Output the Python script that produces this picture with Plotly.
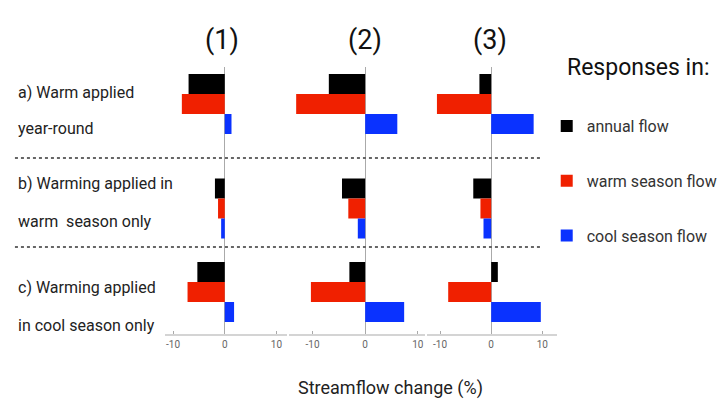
import plotly.graph_objects as go

W, H = 723, 409

columns = ["(1)", "(2)", "(3)"]
scenario_lines = [
    ["a) Warm applied", "year-round"],
    ["b) Warming applied in", "warm  season only"],
    ["c) Warming applied", "in cool season only"],
]
series_names = ["annual flow", "warm season flow", "cool season flow"]
series_colors = ["#000000", "#f02000", "#0a32ff"]

# streamflow change (%), indexed [column][scenario a, b, c]
annual_flow = [[-7.0, -1.9, -5.3], [-6.9, -4.4, -3.0], [-2.3, -3.5, 1.3]]
warm_season_flow = [[-8.3, -1.3, -7.2], [-13.1, -3.2, -10.3], [-10.6, -2.1, -8.4]]
cool_season_flow = [[1.3, -0.7, 1.8], [6.1, -1.4, 7.4], [8.3, -1.5, 9.7]]
series_values = [annual_flow, warm_season_flow, cool_season_flow]

tick_vals = [-10, 0, 10]
tick_text = ["-10", "0", "10"]
x_title = "Streamflow change (%)"
legend_title = "Responses in:"

# ---- layout constants (pixels) ----
FONT = "Roboto, Liberation Sans, sans-serif"
col_px = [(166, 288), (290, 427), (429, 559)]
col_ranges = [(-11.5, 12.0), (-14.5, 11.4), (-12.5, 12.8)]
plot_top, plot_bot = 67, 334
row_base = [0.85, 6.08, 10.25]
header_x = [223, 367, 492]
label_y = [[92, 128], [183, 222], [287, 325]]
sep_y = [158, 247]


def px(x):
    return x / W


def py(y):
    return 1 - y / H


fig = go.Figure()
for c in range(len(columns)):
    xa = "x" if c == 0 else f"x{c + 1}"
    for s, name in enumerate(series_names):
        vals = series_values[s][c]
        fig.add_trace(go.Bar(
            x=vals,
            y=[row_base[r] + s for r in range(len(vals))],
            orientation="h",
            width=1.0,
            marker=dict(color=series_colors[s], line=dict(width=0)),
            name=name,
            legendgroup=name,
            showlegend=(c == 0),
            xaxis=xa,
            yaxis="y",
        ))

layout = dict(
    width=W, height=H,
    margin=dict(l=0, r=0, t=0, b=0),
    paper_bgcolor="white", plot_bgcolor="white",
    barmode="overlay",
    font=dict(family=FONT, color="#222"),
    yaxis=dict(domain=[py(plot_bot), py(plot_top)], range=[13.35, 0],
               showgrid=False, zeroline=False, showticklabels=False,
               showline=False, ticks="", anchor="x", fixedrange=True),
    legend=dict(x=px(549), y=py(109), xanchor="left", yanchor="top",
                font=dict(size=16, color="#333", family=FONT),
                traceorder="grouped", tracegroupgap=31,
                bgcolor="rgba(0,0,0,0)", itemwidth=30),
    showlegend=True,
)
for c in range(len(columns)):
    key = "xaxis" if c == 0 else f"xaxis{c + 1}"
    layout[key] = dict(
        domain=[px(col_px[c][0]), px(col_px[c][1])],
        range=list(col_ranges[c]),
        anchor="y",
        tickvals=tick_vals, ticktext=tick_text,
        ticks="inside", ticklen=3, tickcolor="#aaa", tickwidth=1,
        tickfont=dict(size=10, color="#666"),
        showline=True, linecolor="#d4d4d4", linewidth=2,
        showgrid=False,
        zeroline=True, zerolinecolor="#aaa", zerolinewidth=1,
    )
fig.update_layout(**layout)

ann = []
for c, t in enumerate(columns):
    ann.append(dict(text=t, x=px(header_x[c]), y=py(40), xref="paper", yref="paper",
                    showarrow=False, xanchor="center", yanchor="middle",
                    font=dict(size=27, color="#111")))
for r, lines in enumerate(scenario_lines):
    for i, line in enumerate(lines):
        ann.append(dict(text=line, x=px(16), y=py(label_y[r][i]), xref="paper", yref="paper",
                        showarrow=False, xanchor="left", yanchor="middle",
                        font=dict(size=16, color="#222")))
ann.append(dict(text=x_title, x=px(392), y=py(388), xref="paper", yref="paper",
                showarrow=False, xanchor="center", yanchor="middle",
                font=dict(size=18, color="#222")))
ann.append(dict(text=legend_title, x=px(567), y=py(67), xref="paper", yref="paper",
                showarrow=False, xanchor="left", yanchor="middle",
                font=dict(size=23, color="#111")))
fig.update_layout(annotations=ann)

for y in sep_y:
    fig.add_shape(type="line", xref="paper", yref="paper",
                  x0=px(15), x1=px(545), y0=py(y), y1=py(y),
                  line=dict(color="#666", width=2, dash="dot"))

fig.write_html(
    "out.html",
    config={"displayModeBar": False},
    post_script="document.body.style.margin='0';document.body.style.overflow='hidden';",
)
